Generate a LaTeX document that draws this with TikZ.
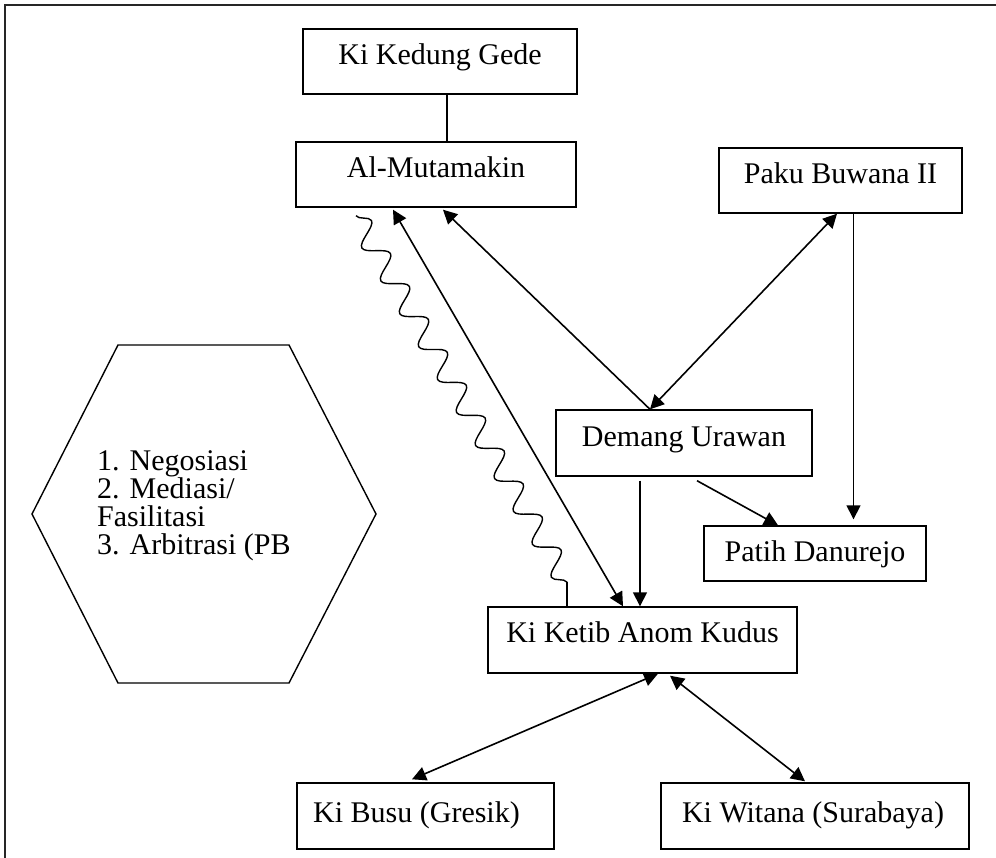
\documentclass[tikz,border=0pt]{standalone}
\usepackage{fontspec}
\setmainfont{Liberation Serif}
\usetikzlibrary{arrows.meta,decorations.pathmorphing}
\begin{document}
\begin{tikzpicture}[x=1pt,y=-1pt,
  box/.style={draw, line width=1.4pt, inner sep=0pt, rectangle},
  lbl/.style={anchor=base, font=\fontsize{30pt}{28pt}\selectfont, inner sep=0pt},
  conn/.style={line width=1.6pt},
  arr/.style={conn, -{Triangle[length=14pt,width=14pt]}},
  darr/.style={conn, {Triangle[length=14pt,width=14pt]}-{Triangle[length=14pt,width=14pt]}},
  wave/.style={line width=1.4pt},
  hexline/.style={line width=1.4pt, line join=miter},
  frameline/.style={line width=1.8pt, draw=black!85}
]
\useasboundingbox (0,0) rectangle (996,858);

% outer frame (only top and left edges visible)
\draw[frameline] (996,5) -- (5,5) -- (5,858);

% boxes
\node[box, minimum width=274pt, minimum height=65pt] (kdg)   at (440,61.5) {};
\node[box, minimum width=280pt, minimum height=65pt] (mut)   at (436,174.5) {};
\node[box, minimum width=243pt, minimum height=65pt] (paku)  at (840.5,180.5) {};
\node[box, minimum width=256pt, minimum height=66pt] (dem)   at (684,443) {};
\node[box, minimum width=222pt, minimum height=55pt] (patih) at (815,553.5) {};
\node[box, minimum width=309pt, minimum height=66pt] (ketib) at (642.5,640) {};
\node[box, minimum width=257pt, minimum height=66pt] (busu)  at (425.5,816) {};
\node[box, minimum width=308pt, minimum height=66pt] (wit)   at (815,816) {};

% labels
\node[lbl] (kdgT)   at ([yshift=-36pt]kdg.north) {Ki Kedung Gede};
\node[lbl] (mutT)   at ([yshift=-36pt]mut.north) {Al-Mutamakin};
\node[lbl] (pakuT)  at ([yshift=-36pt]paku.north) {Paku Buwana II};
\node[lbl] (demT)   at ([yshift=-37pt]dem.north) {Demang Urawan};
\node[lbl] (patihT) at ([yshift=-36pt]patih.north) {Patih Danurejo};
\node[lbl] (ketibT) at ([yshift=-36pt]ketib.north) {Ki Ketib Anom Kudus};
\node[lbl] (busuT)  at ([xshift=-9pt,yshift=-40pt]busu.north) {Ki Busu (Gresik)};
\node[lbl] (witT)   at ([xshift=-2pt,yshift=-40pt]wit.north) {Ki Witana (Surabaya)};

% hexagon
\coordinate (h1) at (118,345);
\coordinate (h2) at (289,345);
\coordinate (h3) at (376,514);
\coordinate (h4) at (289,683);
\coordinate (h5) at (118,683);
\coordinate (h6) at (32,514);
\draw[hexline] (h1) -- (h2) -- (h3) -- (h4) -- (h5) -- (h6) -- cycle;
\node[anchor=base west, align=left, inner sep=0pt, font=\fontsize{30pt}{28pt}\selectfont] (hexT) at (97,554)
  {1. Negosiasi\\2. Mediasi/\\Fasilitasi\\3. Arbitrasi (PB};

% connectors
\draw[conn] ([xshift=7pt]kdg.south) -- ([xshift=11pt]mut.north);
\draw[arr] ([xshift=-34pt]dem.north) -- ([xshift=7pt,yshift=-2pt]mut.south);
\draw[darr] ([xshift=-34pt]dem.north) -- ([xshift=-3.5pt]paku.south);
\draw[arr] ([xshift=13pt]paku.south) -- ([xshift=38.5pt,yshift=6pt]patih.north);
\draw[arr] ([xshift=13pt,yshift=-4pt]dem.south) -- ([xshift=-37pt]patih.north);
\draw[arr] ([xshift=-44pt,yshift=-4pt]dem.south) -- ([xshift=-2.5pt]ketib.north);
\draw[darr] ([xshift=-43pt,yshift=-2pt]mut.south) -- ([xshift=-19.5pt]ketib.north);
\draw[darr] ([xshift=15.5pt]ketib.south) -- ([xshift=-13.5pt,yshift=3pt]busu.north);
\draw[darr] ([xshift=27.5pt,yshift=-2pt]ketib.south) -- ([xshift=-10pt,yshift=1pt]wit.north);

% wavy connector
\coordinate (w0) at ([xshift=-80pt,yshift=-8pt]mut.south);
\coordinate (w1) at ([xshift=-75.5pt,yshift=24pt]ketib.north);
\draw[wave, decorate, decoration={snake, segment length=38pt, amplitude=11pt}] (w0) -- (w1);
\draw[wave] (w1) -- ([xshift=-75.5pt]ketib.north);
\end{tikzpicture}
\end{document}
